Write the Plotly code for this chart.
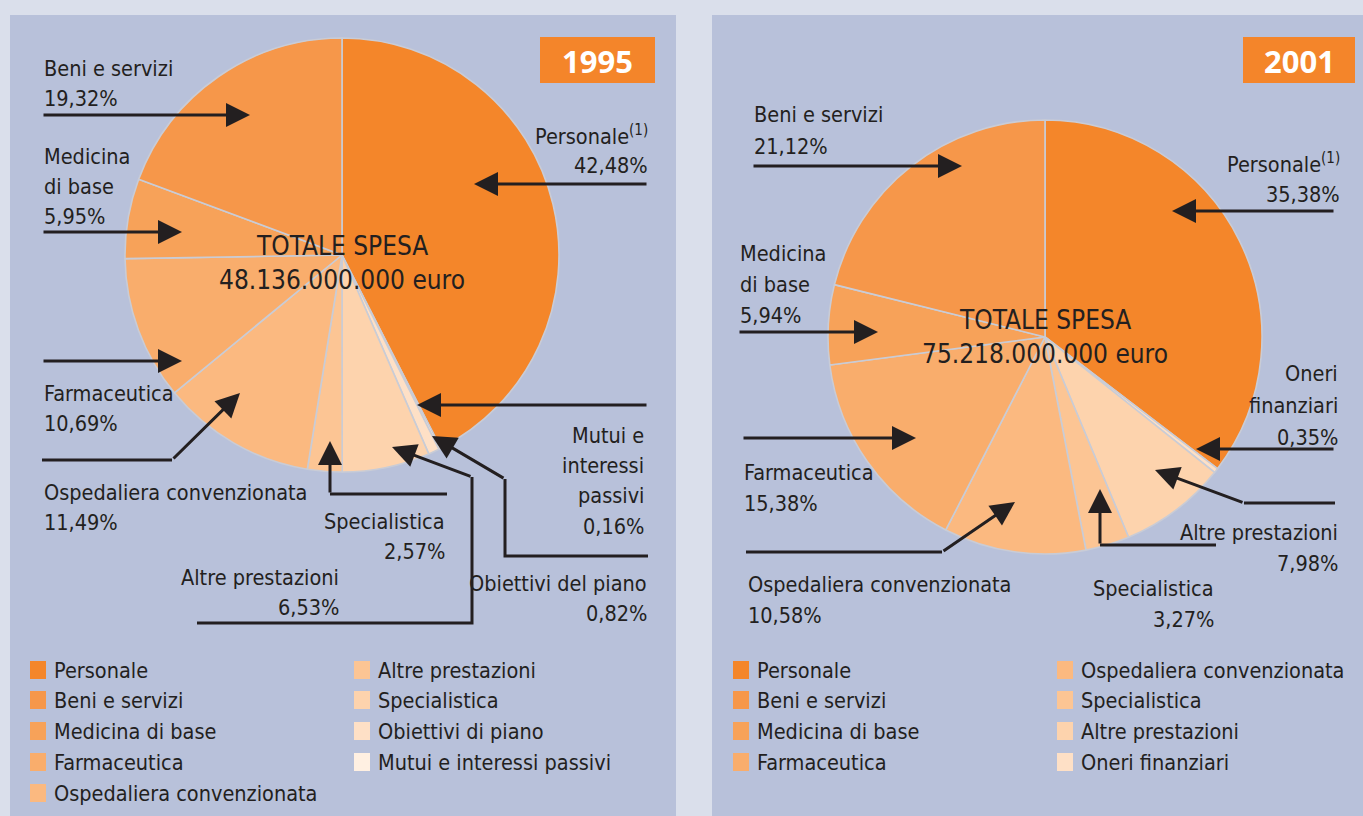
import plotly.graph_objects as go

W, H = 1363, 816

# ---------------- data ----------------
cats_1995 = ["Personale", "Mutui e interessi passivi", "Obiettivi di piano", "Altre prestazioni",
             "Specialistica", "Ospedaliera convenzionata", "Farmaceutica", "Medicina di base",
             "Beni e servizi"]
vals_1995 = [42.48, 0.16, 0.82, 6.53, 2.57, 11.49, 10.69, 5.95, 19.32]
total_1995 = "48.136.000.000 euro"

cats_2001 = ["Personale", "Oneri finanziari", "Altre prestazioni", "Specialistica",
             "Ospedaliera convenzionata", "Farmaceutica", "Medicina di base", "Beni e servizi"]
vals_2001 = [35.38, 0.35, 7.98, 3.27, 10.58, 15.38, 5.94, 21.12]
total_2001 = "75.218.000.000 euro"

legend_1995 = ["Personale", "Beni e servizi", "Medicina di base", "Farmaceutica",
               "Ospedaliera convenzionata", "Altre prestazioni", "Specialistica",
               "Obiettivi di piano", "Mutui e interessi passivi"]
legend_2001 = ["Personale", "Beni e servizi", "Medicina di base", "Farmaceutica",
               "Ospedaliera convenzionata", "Specialistica", "Altre prestazioni",
               "Oneri finanziari"]

# ---------------- style ----------------
shades = ['#f4862a', '#f6974a', '#f7a259', '#f9ad6c', '#fbb980', '#fcc594',
          '#fdd3ad', '#fee0c6', '#fff0e2']
pie_colors_1995 = {"Personale": shades[0], "Beni e servizi": shades[1], "Medicina di base": shades[2],
                   "Farmaceutica": shades[3], "Ospedaliera convenzionata": shades[4],
                   "Specialistica": shades[5], "Altre prestazioni": shades[6],
                   "Obiettivi di piano": shades[7], "Mutui e interessi passivi": shades[8]}
pie_colors_2001 = {"Personale": shades[0], "Beni e servizi": shades[1], "Medicina di base": shades[2],
                   "Farmaceutica": shades[3], "Ospedaliera convenzionata": shades[4],
                   "Specialistica": shades[5], "Altre prestazioni": shades[6],
                   "Oneri finanziari": shades[7]}

FONT = "Liberation Sans Narrow, DejaVu Sans Condensed, Roboto, sans-serif"
INK = "#231f20"
PANEL = "#b8c1da"
OUTER = "#dadfeb"
BORDER = "#c9ccd6"


def fx(x):
    return x / W


def fy(y):
    return 1 - y / H


def pct(v):
    return f"{v:.2f}".replace(".", ",") + "%"


fig = go.Figure()


def add_pie(cats, vals, colors, cx, cy, r):
    fig.add_trace(go.Pie(
        labels=cats, values=vals, sort=False, direction="clockwise", rotation=0,
        marker=dict(colors=[colors[c] for c in cats], line=dict(color=BORDER, width=1.6)),
        textinfo="none", hoverinfo="label+percent", showlegend=False,
        domain=dict(x=[fx(cx - r), fx(cx + r)], y=[fy(cy + r), fy(cy - r)]),
    ))


add_pie(cats_1995, vals_1995, pie_colors_1995, 342, 255, 217)
add_pie(cats_2001, vals_2001, pie_colors_2001, 1045, 337, 217)

shapes = []
annotations = []

# panels
shapes.append(dict(type="rect", xref="paper", yref="paper", x0=fx(10), x1=fx(676), y0=fy(816), y1=fy(15),
                   fillcolor=PANEL, line=dict(width=0), layer="below"))
shapes.append(dict(type="rect", xref="paper", yref="paper", x0=fx(712), x1=fx(1363), y0=fy(816), y1=fy(15),
                   fillcolor=PANEL, line=dict(width=0), layer="below"))

# year boxes
for (x0, x1, yr) in [(540, 655, "1995"), (1243, 1355, "2001")]:
    shapes.append(dict(type="rect", xref="paper", yref="paper", x0=fx(x0), x1=fx(x1), y0=fy(83), y1=fy(37),
                       fillcolor="#f4852a", line=dict(width=0), layer="above"))
    annotations.append(dict(x=fx((x0 + x1) / 2), y=fy(61), xref="paper", yref="paper", text=f"<b>{yr}</b>",
                            showarrow=False, xanchor="center", yanchor="middle",
                            font=dict(family="Open Sans, DejaVu Sans, sans-serif", size=31, color="white")))


def txt(x, y, s, anchor="left", size=21.5):
    annotations.append(dict(x=fx(x), y=fy(y), xref="paper", yref="paper", text=s, showarrow=False,
                            xanchor=anchor, yanchor="middle", font=dict(family=FONT, size=size, color=INK)))


def arrow(pts):
    path = "M " + " L ".join(f"{fx(x):.5f},{fy(y):.5f}" for x, y in pts[:-1])
    if len(pts) > 2:
        shapes.append(dict(type="path", xref="paper", yref="paper", path=path,
                           line=dict(color=INK, width=3), layer="above"))
    (x1, y1), (x2, y2) = pts[-2], pts[-1]
    annotations.append(dict(x=fx(x2), y=fy(y2), xref="paper", yref="paper", text="", showarrow=True,
                            ax=x1 - x2, ay=y1 - y2, axref="pixel", ayref="pixel",
                            arrowhead=2, arrowsize=1.6, arrowwidth=3, arrowcolor=INK, standoff=0,
                            startstandoff=0))


v95 = dict(zip(cats_1995, vals_1995))
v01 = dict(zip(cats_2001, vals_2001))

# ---- 1995 labels ----
# (lines, category, x, first line y, anchor, arrow points)
labels_1995 = [
    (["Beni e servizi"], "Beni e servizi", 42, 68, "left", [(42, 115), (250, 115)]),
    (["Medicina", "di base"], "Medicina di base", 42, 156, "left", [(42, 232), (182, 232)]),
    (["Farmaceutica"], "Farmaceutica", 42, 393, "left", [(42, 361), (182, 361)]),
    (["Ospedaliera convenzionata"], "Ospedaliera convenzionata", 42, 492, "left",
     [(42, 460), (172, 460), (240, 393)]),
    (["Specialistica"], "Specialistica", 447, 521, "right", [(447, 494), (330, 494), (330, 441)]),
    (["Altre prestazioni"], "Altre prestazioni", 341, 577, "right",
     [(197, 623), (472, 623), (472, 477), (392, 447)]),
    (["Obiettivi del piano"], "Obiettivi di piano", 649, 583, "right",
     [(648, 556), (505, 556), (505, 479), (432, 436)]),
    (["Mutui e", "interessi", "passivi"], "Mutui e interessi passivi", 646, 435, "right",
     [(648, 405), (417, 405)]),
    (["Personale<sup>(1)</sup>"], "Personale", 650, 135, "right", [(648, 184), (474, 184)]),
]
for lines, cat, x, y0, anc, pts in labels_1995:
    for i, ln in enumerate(lines):
        txt(x, y0 + 30.5 * i, ln, anc)
    txt(x, y0 + 30.5 * len(lines), pct(v95[cat]), anc)
    arrow(pts)

# ---- 2001 labels ----
labels_2001 = [
    (["Beni e servizi"], "Beni e servizi", 752, 115, "left", [(752, 166), (962, 166)]),
    (["Medicina", "di base"], "Medicina di base", 738, 253, "left", [(738, 332), (878, 332)]),
    (["Farmaceutica"], "Farmaceutica", 742, 472, "left", [(742, 438), (916, 438)]),
    (["Ospedaliera convenzionata"], "Ospedaliera convenzionata", 746, 584, "left",
     [(746, 552), (942, 552), (1015, 502)]),
    (["Specialistica"], "Specialistica", 1216, 588, "right", [(1216, 545), (1100, 545), (1100, 489)]),
    (["Altre prestazioni"], "Altre prestazioni", 1340, 532, "right",
     [(1335, 503), (1244, 503), (1155, 470)]),
    (["Oneri", "finanziari"], "Oneri finanziari", 1340, 374, "right", [(1335, 449), (1196, 449)]),
    (["Personale<sup>(1)</sup>"], "Personale", 1342, 163, "right", [(1335, 211), (1172, 211)]),
]
for lines, cat, x, y0, anc, pts in labels_2001:
    step = 31.5
    for i, ln in enumerate(lines):
        txt(x, y0 + step * i, ln, anc)
    txt(x, y0 + step * len(lines), pct(v01[cat]), anc)
    arrow(pts)

# ---- totals ----
txt(342, 246, "TOTALE SPESA", "center", 26)
txt(342, 280, total_1995, "center", 26)
txt(1045, 320, "TOTALE SPESA", "center", 26)
txt(1045, 354, total_2001, "center", 26)


# ---- legends ----
def legend(names, cols_x, rows_y, per_col):
    for i, name in enumerate(names):
        c, r = divmod(i, per_col)
        sx = cols_x[c]
        yy = rows_y[r]
        shapes.append(dict(type="rect", xref="paper", yref="paper", x0=fx(sx), x1=fx(sx + 16),
                           y0=fy(yy + 9), y1=fy(yy - 9), fillcolor=shades[i], line=dict(width=0),
                           layer="above"))
        txt(sx + 22, yy, name, "left", 21.5)


legend(legend_1995, [30, 354], [670, 700, 731, 762, 793], 5)
legend(legend_2001, [733, 1057], [670, 700, 731, 762], 4)

fig.update_layout(
    width=W, height=H, margin=dict(l=0, r=0, t=0, b=0),
    paper_bgcolor=OUTER, plot_bgcolor=OUTER,
    shapes=shapes, annotations=annotations, showlegend=False,
)

fig.write_html("out.html", config={"displayModeBar": False},
               post_script="document.body.style.margin='0';document.body.style.padding='0';"
                           "document.body.style.overflow='hidden';document.body.style.background='#dadfeb';")
